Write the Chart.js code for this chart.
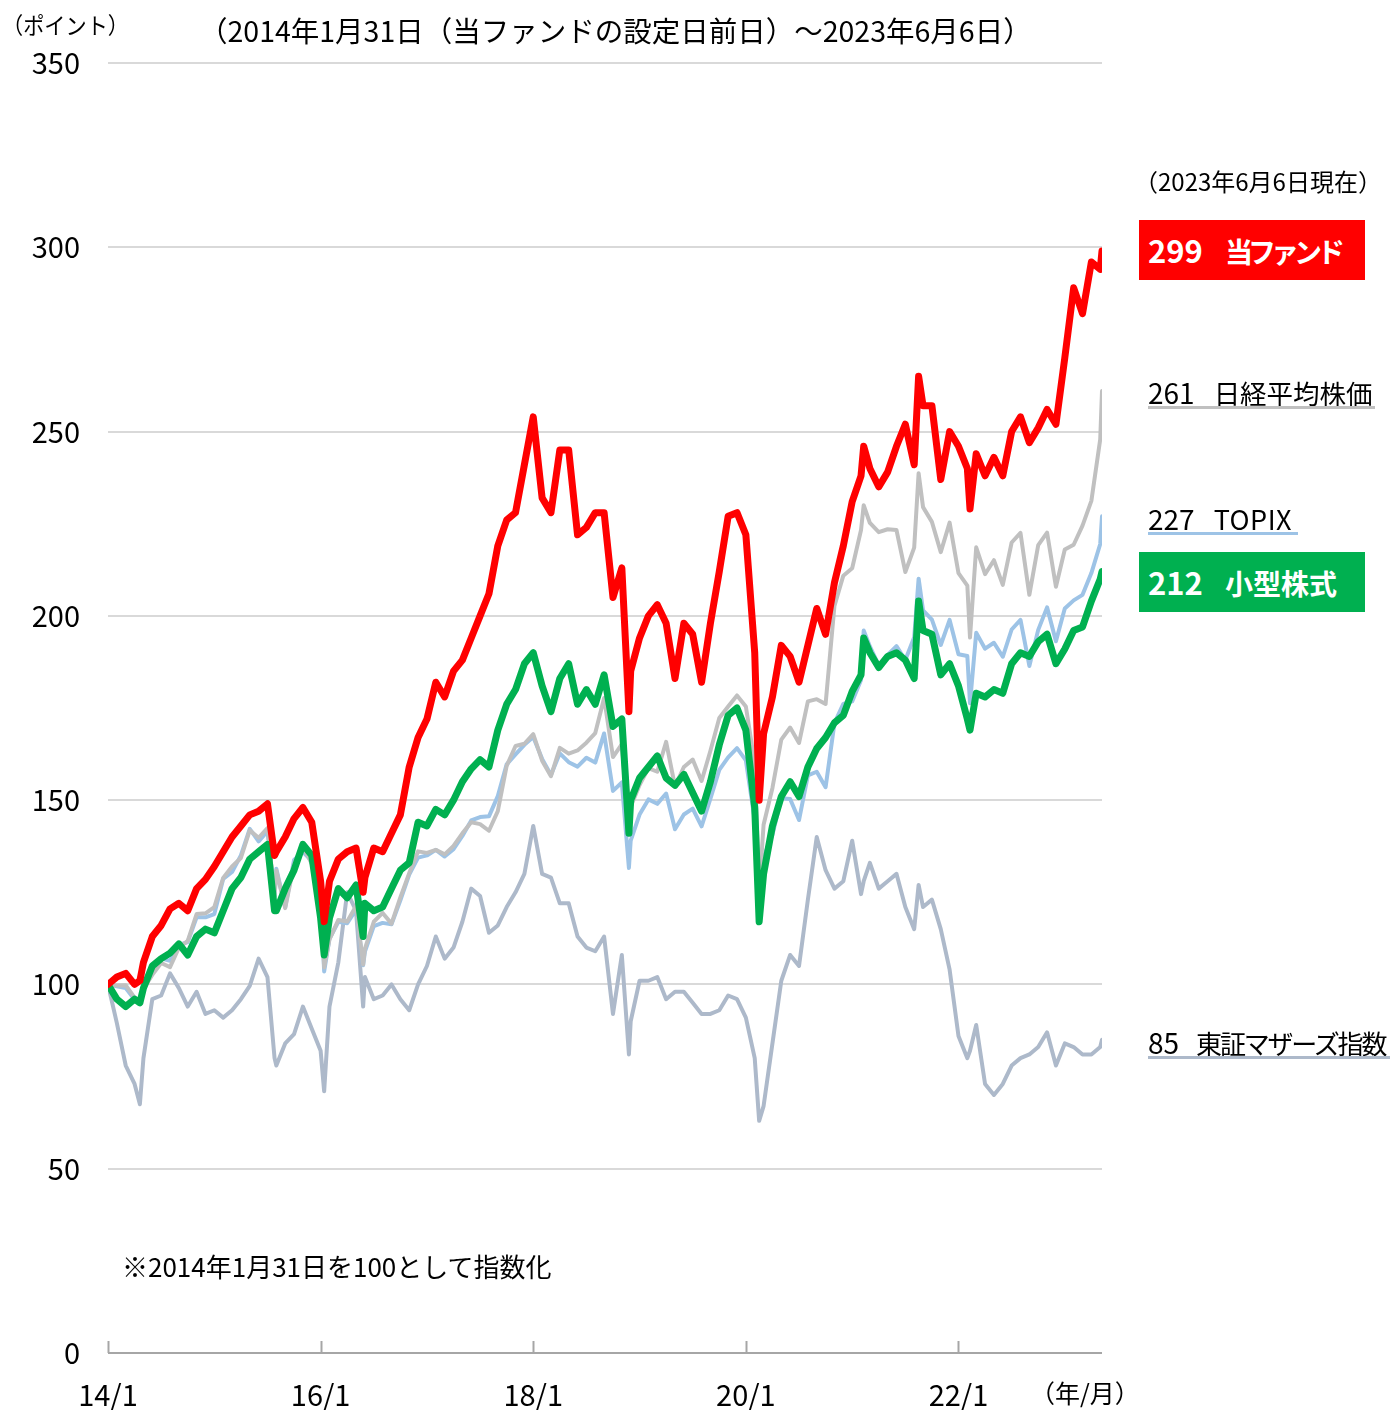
<!DOCTYPE html>
<html>
<head>
<meta charset="utf-8">
<script src="https://cdn.jsdelivr.net/npm/chart.js@4.4.0/dist/chart.umd.min.js"></script>
<style>
body { margin: 0; background: #fff; }
#wrap { position: relative; width: 1393px; height: 1410px; font-family: "Noto Sans CJK JP", sans-serif; }
.t { position: absolute; white-space: nowrap; color: #000; }
.box { position: absolute; color: #fff; font-weight: bold; line-height: 60px; height: 60px; width: 226px; box-sizing: border-box; padding-left: 9px; white-space: nowrap; }
.uline { position: absolute; height: 3px; }
</style>
</head>
<body>
<div id="wrap">
<canvas id="chart" width="1393" height="1410"></canvas>
<div class="t" style="left:2px;top:10px;font-size:23px;line-height:28px;transform:scaleX(0.92);transform-origin:left;">（ポイント）</div>
<div class="t" style="left:199px;top:13px;font-size:28.5px;line-height:34px;">（2014年1月31日（当ファンドの設定日前日）～2023年6月6日）</div>
<div class="t" style="left:122px;top:1250px;font-size:26px;line-height:32px;">※2014年1月31日を100として指数化</div>
<div class="t" style="left:1030px;top:1377px;font-size:25px;line-height:30px;">（年/月）</div>
<div class="t" style="left:1134px;top:167px;font-size:24px;line-height:28px;">（2023年6月6日現在）</div>
<div id="labels"></div>
</div>
<script>
// months since 2014/1/31 (extra points at the big swings)
const months = [
  0, 1, 2, 3, 3.6, 4, 5, 6, 7, 8, 9, 10, 11,
  12, 13, 14, 15, 16, 17, 18, 18.8, 19, 20, 21, 22, 23,
  24, 24.4, 25, 26, 27, 28, 28.8, 29, 30, 31, 32, 33, 34, 35,
  36, 37, 38, 39, 40, 41, 42, 43, 44, 45, 46, 47,
  48, 49, 50, 51, 52, 53, 54, 55, 56, 57, 58, 58.8, 59,
  60, 61, 62, 63, 64, 65, 66, 67, 68, 69, 70, 71,
  72, 73, 73.5, 74, 75, 76, 77, 78, 79, 80, 81, 82, 83,
  84, 85, 85.3, 86, 87, 88, 89, 90, 91, 91.5, 92, 93, 94, 95,
  96, 97, 97.3, 98, 99, 100, 101, 102, 103, 104, 105, 106, 107,
  108, 109, 110, 111, 112, 112.2
];

const fund = [
  100, 102, 103, 100, 101, 106, 113, 116, 120.5, 122, 120, 126, 128.5,
  132, 136, 140, 143, 146, 147, 149, 135, 136, 140, 145, 148, 144,
  128, 117, 128, 134, 136, 137, 125, 129, 137, 136, 141, 146, 159, 167,
  172, 182, 178, 185, 188, 194, 200, 206, 219, 226, 228, 241,
  254, 232, 228, 245, 245, 222, 224, 228, 228, 205, 213, 174, 185,
  194, 200, 203, 198, 183, 198, 195, 182, 198, 212, 227, 228,
  222, 190, 150, 168, 178, 192, 189, 182, 192, 202, 195, 209, 219,
  231, 238, 246, 240, 235, 239, 246, 252, 241, 265, 257, 257, 237, 250,
  246, 240, 229, 244, 238, 243, 238, 250, 254, 247, 251, 256, 252,
  270, 289, 282, 296, 294, 299
];

const smallCap = [
  100, 96, 94, 96, 95, 99, 105, 107, 108.5, 111, 108, 113, 115,
  114, 120, 126, 129, 134, 136, 138, 120, 120, 126, 131, 138, 135,
  118, 108, 118, 126, 123.5, 127, 113, 122, 120, 121, 126, 131, 133, 144,
  143, 147.5, 146, 150, 155, 158.5, 161, 159, 169, 176, 180, 187,
  190, 181, 174, 183, 187, 176, 180, 176, 184, 170, 172, 141, 150,
  156, 159, 162, 156, 154, 157, 152, 147, 155, 165, 173, 175,
  169, 148, 117, 130, 143, 151, 155, 151, 159, 164, 167, 171, 173,
  179.5, 184, 194, 190, 186, 189, 190, 188, 183, 204, 196, 195, 184, 187,
  181, 172, 169, 179, 178, 180, 179, 187, 190, 189, 193, 195, 187,
  191, 196, 197, 204, 210, 212
];

const nikkei = [
  100, 99.7, 99.8, 96.4, 95, 98.8, 102.6, 105.8, 104.7, 110.0, 111.8, 119.1, 119.3,
  121.0, 128.9, 132.0, 134.3, 141.8, 139.8, 142.4, 124, 130.9, 120.7, 132.6, 137.5, 132.7,
  122.4, 104.6, 112.2, 117.5, 117.1, 121.3, 105.4, 109.7, 117.0, 119.4, 116.5, 123.6, 130.2, 136.1,
  135.7, 136.5, 135.3, 137.6, 141.0, 144.0, 143.5, 141.7, 147.0, 159.3, 164.7, 165.3,
  167.9, 160.7, 156.5, 164.2, 162.6, 163.5, 165.6, 168.2, 177.7, 161.7, 165.2, 141.7, 148.2,
  154.1, 158.7, 157.7, 165.8, 153.7, 159.0, 161.0, 155.2, 163.4, 172.3, 175.4, 178.4,
  175.4, 160.0, 125.4, 143.3, 153.3, 166.4, 169.7, 165.5, 176.8, 177.4, 176.1, 202.7, 210.9,
  212.9, 223.3, 230, 225.2, 222.7, 223.5, 223.3, 211.9, 218.5, 238.7, 229.5, 225.5, 217.3, 225.3,
  211.6, 208.2, 194.1, 218.6, 211.3, 215.1, 208.4, 219.9, 222.5, 205.7, 219.2, 222.6, 207.9,
  218.0, 219.3, 224.5, 231.2, 247.9, 261
];

const topix = [
  100, 99.5, 99.0, 95.9, 95.8, 99.3, 104.6, 107.1, 106.4, 110.7, 111.5, 118.2, 118.2,
  119.1, 128.6, 130.5, 135.0, 142.2, 138.8, 141.6, 123.8, 131.4, 120.9, 133.8, 136.0, 133.5,
  123.8, 103.5, 112.4, 117.0, 116.6, 120.3, 105.2, 108.9, 115.8, 116.7, 116.3, 122.8, 129.8, 134.4,
  135.0, 136.5, 134.7, 136.7, 140.3, 144.5, 145.4, 145.6, 151.1, 159.7, 162.4, 165.0,
  167.1, 161.2, 156.8, 162.7, 160.3, 159.1, 161.5, 160.2, 168.1, 152.5, 154.8, 131.6, 139.0,
  146.1, 150.2, 149.0, 151.8, 142.1, 146.1, 147.7, 142.9, 150.4, 158.2, 161.6, 164.1,
  160.8, 144.6, 118.4, 134.5, 140.6, 150.5, 150.3, 144.6, 156.7, 157.7, 153.5, 170.9, 176.1,
  176.8, 182.6, 196, 191.7, 186.6, 189.4, 191.8, 188.0, 194.2, 210.1, 201.5, 199.0, 192.1, 198.9,
  189.6, 189.1, 176.3, 195.4, 191.1, 192.7, 188.9, 196.3, 198.9, 186.4, 196.2, 202.3, 193.1,
  202.0, 204.2, 205.7, 211.6, 219.5, 227
];

const mothers = [
  100, 89.5, 78, 73, 67.5, 80, 96, 97, 103, 99, 94, 98, 92,
  93, 91, 93, 96, 99.6, 107, 102, 80, 78, 84, 86.5, 94, 88,
  82, 71, 94, 106, 125, 120, 94, 102, 96, 97, 100, 96, 93, 100,
  105, 113, 107, 110, 117, 126, 124, 114, 116, 121, 125, 130,
  143, 130, 129, 122, 122, 113, 110, 109, 113, 92, 108, 81, 90,
  101, 101, 102, 96, 98, 98, 95, 92, 92, 93, 97, 96,
  91, 80, 63, 67, 84, 101, 108, 105, 123, 140, 131, 126, 128,
  139, 124.5, 128, 133, 126, 128, 130, 121, 115, 127, 121, 123, 115, 104,
  86, 80, 82, 89, 73, 70, 73, 78, 80, 81, 83, 87, 78,
  84, 83, 81, 81, 83, 85
];

const tickMonths = [0, 24, 48, 72, 96];
const tickLabels = ['14/1', '16/1', '18/1', '20/1', '22/1'];

const FONT = '"Noto Sans CJK JP", sans-serif';
Chart.defaults.font.family = FONT;

function pts(arr) {
  return months.map((m, i) => ({ x: m, y: arr[i] }));
}

function line(label, arr, color, width) {
  return {
    label: label,
    data: pts(arr),
    borderColor: color,
    backgroundColor: color,
    borderWidth: width,
    pointRadius: 0,
    tension: 0,
    borderJoinStyle: 'round',
    borderCapStyle: 'round'
  };
}

// small tick marks standing up from the baseline
const xTickMarks = {
  id: 'xTickMarks',
  afterDatasetsDraw(chart) {
    const c = chart.ctx;
    const xs = chart.scales.x;
    const y0 = chart.scales.y.getPixelForValue(0);
    c.save();
    c.strokeStyle = '#A6A6A6';
    c.lineWidth = 2;
    tickMonths.forEach(v => {
      const x = Math.round(xs.getPixelForValue(v)) + 0.5;
      c.beginPath();
      c.moveTo(x, y0);
      c.lineTo(x, y0 - 12);
      c.stroke();
    });
    c.restore();
  }
};

const ctx = document.getElementById('chart').getContext('2d');
const chart = new Chart(ctx, {
  type: 'line',
  data: {
    datasets: [
      line('当ファンド', fund, '#FF0000', 7),
      line('小型株式', smallCap, '#00B050', 7),
      line('日経平均株価', nikkei, '#C0C0C0', 4),
      line('TOPIX', topix, '#9DC3E6', 4),
      line('東証マザーズ指数', mothers, '#ADB9CA', 4)
    ]
  },
  options: {
    responsive: false,
    animation: false,
    layout: { padding: { top: 63, right: 291, bottom: 0, left: 0 } },
    plugins: {
      legend: { display: false },
      tooltip: { enabled: false }
    },
    scales: {
      x: {
        type: 'linear',
        min: 0,
        max: 112.2,
        grid: { display: false, drawTicks: false },
        border: { display: false },
        afterBuildTicks: s => { s.ticks = tickMonths.map(v => ({ value: v })); },
        afterFit: s => { s.height = 57; },
        ticks: {
          autoSkip: false,
          maxRotation: 0,
          padding: 25,
          color: '#000',
          font: { size: 29, family: FONT },
          callback: (v, i) => tickLabels[i]
        }
      },
      y: {
        min: 0,
        max: 350,
        afterFit: s => { s.width = 108; },
        border: { display: false },
        grid: {
          drawTicks: false,
          lineWidth: 2,
          color: c => c.tick.value === 0 ? '#A6A6A6' : '#D9D9D9'
        },
        ticks: {
          stepSize: 50,
          padding: 28,
          color: '#000',
          font: { size: 29, family: FONT }
        }
      }
    }
  },
  plugins: [xTickMarks]
});

// right-hand value labels (value on 2023/6/6)
const last = a => Math.round(a[a.length - 1]);
const wrap = document.getElementById('labels');
function boxLabel(top, bg, value, name, nameSpacing) {
  const d = document.createElement('div');
  d.className = 'box';
  d.style.left = '1139px';
  d.style.top = top + 'px';
  d.style.background = bg;
  d.innerHTML = '<span style="font-size:31px">' + value + '</span>' +
    '<span style="font-size:28px;margin-left:22px;letter-spacing:' + nameSpacing + 'px">' + name + '</span>';
  wrap.appendChild(d);
}
function plainLabel(centerY, lineColor, lineWidth, value, name, nameSize, nameSpacing, gap) {
  const d = document.createElement('div');
  d.className = 't';
  d.style.left = '1148px';
  d.style.top = (centerY - 17) + 'px';
  d.style.lineHeight = '34px';
  d.innerHTML = '<span style="font-size:28px">' + value + '</span>' +
    '<span style="font-size:' + nameSize + 'px;margin-left:' + gap + 'px;letter-spacing:' + nameSpacing + 'px">' + name + '</span>';
  wrap.appendChild(d);
  const u = document.createElement('div');
  u.className = 'uline';
  u.style.left = '1148px';
  u.style.top = (centerY + 14) + 'px';
  u.style.width = lineWidth + 'px';
  u.style.background = lineColor;
  wrap.appendChild(u);
}
boxLabel(220, '#FF0000', last(fund), '当ファンド', -5);
plainLabel(392, '#C0C0C0', 227, last(nikkei), '日経平均株価', 26.5, 0, 19);
plainLabel(518, '#9DC3E6', 150, last(topix), 'TOPIX', 27, 0.5, 19);
boxLabel(552, '#00B050', last(smallCap), '小型株式', 0);
plainLabel(1042, '#ADB9CA', 242, last(mothers), '東証マザーズ指数', 26, -2.2, 17);
</script>
</body>
</html>
